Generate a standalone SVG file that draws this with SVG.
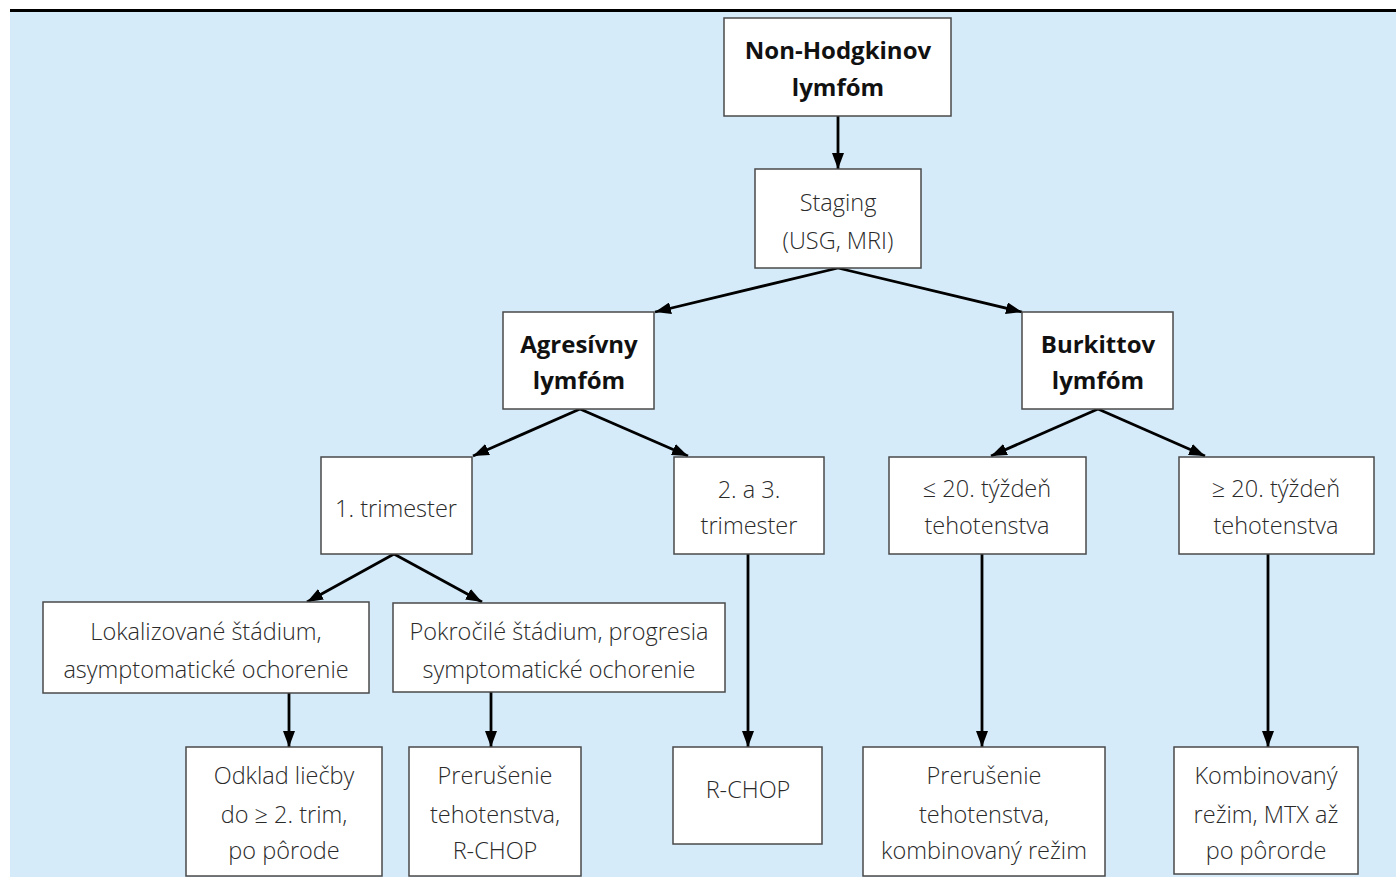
<svg xmlns="http://www.w3.org/2000/svg" width="1396" height="877" viewBox="0 0 1396 877">
<style>
.bg{fill:#d5ebf9}
.box{fill:#ffffff;stroke:#4a4a4a;stroke-width:1.5}
.t{font-family:"Open Sans","Liberation Sans",sans-serif;font-weight:300;font-size:23.5px;fill:#2a2a2a;text-anchor:middle}
.b{font-family:"Open Sans","Liberation Sans",sans-serif;font-weight:700;font-size:24px;fill:#111;text-anchor:middle}
.c{stroke:#000;stroke-width:2.8;fill:none;marker-end:url(#ah)}
</style>
<defs>
<marker id="ah" viewBox="0 0 16 12" refX="16" refY="6" markerWidth="16" markerHeight="12" markerUnits="userSpaceOnUse" orient="auto">
<path d="M0,0 L16,6 L0,12 Z" fill="#000"/>
</marker>
</defs>
<rect x="0" y="0" width="1396" height="877" fill="#ffffff"/>
<rect class="bg" x="10" y="12" width="1386" height="865"/>
<rect x="10" y="9" width="1386" height="3" fill="#000"/>
<g id="connectors">
<line class="c" x1="838" y1="116" x2="838" y2="169"/>
<line class="c" x1="838" y1="268" x2="655" y2="312"/>
<line class="c" x1="838" y1="268" x2="1022" y2="312"/>
<line class="c" x1="580" y1="409" x2="473" y2="456"/>
<line class="c" x1="580" y1="409" x2="688" y2="456"/>
<line class="c" x1="1098" y1="409" x2="991" y2="456"/>
<line class="c" x1="1098" y1="409" x2="1205" y2="456"/>
<line class="c" x1="394" y1="554" x2="307" y2="602"/>
<line class="c" x1="394" y1="554" x2="482" y2="602"/>
<line class="c" x1="289" y1="693" x2="289" y2="747"/>
<line class="c" x1="491" y1="692" x2="491" y2="747"/>
<line class="c" x1="748" y1="554" x2="748" y2="747"/>
<line class="c" x1="982" y1="554" x2="982" y2="747"/>
<line class="c" x1="1268" y1="554" x2="1268" y2="747"/>
</g>
<g id="n-nhl">
<rect class="box" x="724" y="18" width="227" height="98"/>
<text class="b" x="838" y="59">Non-Hodgkinov</text>
<text class="b" x="838" y="96">lymfóm</text>
</g>
<g id="n-staging">
<rect class="box" x="755" y="169" width="166" height="99"/>
<text class="t" x="838" y="211">Staging</text>
<text class="t" x="838" y="249">(USG, MRI)</text>
</g>
<g id="n-agresivny">
<rect class="box" x="503" y="312" width="151" height="97"/>
<text class="b" x="579" y="353">Agresívny</text>
<text class="b" x="579" y="389">lymfóm</text>
</g>
<g id="n-burkittov">
<rect class="box" x="1022" y="312" width="151" height="97"/>
<text class="b" x="1098" y="353">Burkittov</text>
<text class="b" x="1098" y="389">lymfóm</text>
</g>
<g id="n-1trim">
<rect class="box" x="321" y="457" width="151" height="97"/>
<text class="t" x="396" y="517">1. trimester</text>
</g>
<g id="n-23trim">
<rect class="box" x="674" y="457" width="150" height="97"/>
<text class="t" x="749" y="498">2. a 3.</text>
<text class="t" x="749" y="534">trimester</text>
</g>
<g id="n-le20">
<rect class="box" x="889" y="457" width="197" height="97"/>
<text class="t" x="987" y="497">≤ 20. týždeň</text>
<text class="t" x="987" y="534">tehotenstva</text>
</g>
<g id="n-ge20">
<rect class="box" x="1179" y="457" width="195" height="97"/>
<text class="t" x="1276" y="497">≥ 20. týždeň</text>
<text class="t" x="1276" y="534">tehotenstva</text>
</g>
<g id="n-lokal">
<rect class="box" x="43" y="602" width="326" height="91"/>
<text class="t" x="206" y="640">Lokalizované štádium,</text>
<text class="t" x="206" y="678">asymptomatické ochorenie</text>
</g>
<g id="n-pokroc">
<rect class="box" x="393" y="603" width="332" height="89"/>
<text class="t" x="559" y="640">Pokročilé štádium, progresia</text>
<text class="t" x="559" y="678">symptomatické ochorenie</text>
</g>
<g id="n-odklad">
<rect class="box" x="186" y="747" width="196" height="129"/>
<text class="t" x="284" y="784">Odklad liečby</text>
<text class="t" x="284" y="823">do ≥ 2. trim,</text>
<text class="t" x="284" y="859">po pôrode</text>
</g>
<g id="n-prer-rchop">
<rect class="box" x="409" y="747" width="172" height="129"/>
<text class="t" x="495" y="784">Prerušenie</text>
<text class="t" x="495" y="823">tehotenstva,</text>
<text class="t" x="495" y="859">R-CHOP</text>
</g>
<g id="n-rchop">
<rect class="box" x="673" y="747" width="149" height="97"/>
<text class="t" x="748" y="798">R-CHOP</text>
</g>
<g id="n-prer-komb">
<rect class="box" x="863" y="747" width="242" height="129"/>
<text class="t" x="984" y="784">Prerušenie</text>
<text class="t" x="984" y="823">tehotenstva,</text>
<text class="t" x="984" y="859">kombinovaný režim</text>
</g>
<g id="n-komb">
<rect class="box" x="1174" y="747" width="184" height="127"/>
<text class="t" x="1266" y="784">Kombinovaný</text>
<text class="t" x="1266" y="823">režim, MTX až</text>
<text class="t" x="1266" y="859">po pôrorde</text>
</g>
</svg>
